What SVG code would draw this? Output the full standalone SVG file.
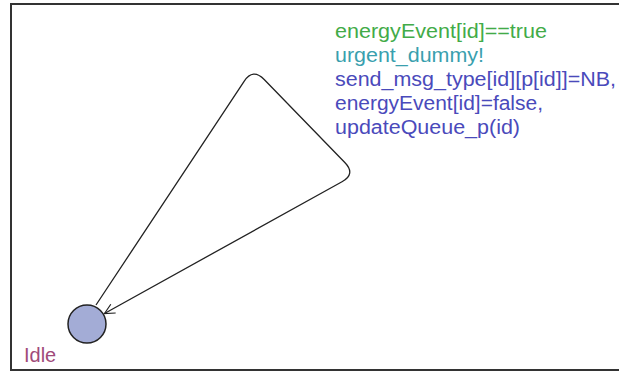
<svg xmlns="http://www.w3.org/2000/svg" width="619" height="372" viewBox="0 0 619 372">
  <defs>
    <marker id="arrow" viewBox="0 0 12 12" refX="11" refY="6" markerWidth="12" markerHeight="12" markerUnits="userSpaceOnUse" orient="auto">
      <polyline points="1,1 11,6 1,11" fill="none" stroke="#222" stroke-width="1.2"/>
    </marker>
  </defs>
  <style>
    .frame { fill: none; stroke: #333; stroke-width: 2; }
    .edge { fill: none; stroke: #222; stroke-width: 1.3; }
    .loc { fill: #a3acd6; stroke: #222; stroke-width: 1.5; }
    .lbl { font-family: "Liberation Sans", Arial, sans-serif; font-size: 20px; }
    .guard { fill: #42ab48; }
    .sync { fill: #3a9fae; }
    .assign { fill: #4a4abb; }
    .name { fill: #a04a7a; }
  </style>
  <rect width="619" height="372" fill="#fff"/>
  <!-- template frame (open on the right) -->
  <polyline class="frame" points="625,4 11,4 11,370 625,370"/>

  <g id="connectors">
    <path class="edge" marker-end="url(#arrow)"
          d="M96,305 L244.1,81.3 Q253,68 264.2,79.5 L344.8,162.5 Q356,174 342,181.7 L104.5,313.5"/>
    <g id="edge-labels">
      <text class="lbl guard" x="335" y="38" textLength="212" lengthAdjust="spacingAndGlyphs">energyEvent[id]==true</text>
      <text class="lbl sync" x="335" y="62" textLength="149" lengthAdjust="spacingAndGlyphs">urgent_dummy!</text>
      <text class="lbl assign" x="335" y="86" textLength="281" lengthAdjust="spacingAndGlyphs">send_msg_type[id][p[id]]=NB,</text>
      <text class="lbl assign" x="335" y="110" textLength="208" lengthAdjust="spacingAndGlyphs">energyEvent[id]=false,</text>
      <text class="lbl assign" x="335" y="134" textLength="185" lengthAdjust="spacingAndGlyphs">updateQueue_p(id)</text>
    </g>
  </g>

  <g id="Idle">
    <circle class="loc" cx="87" cy="324" r="19"/>
    <text class="lbl name" x="24" y="362">Idle</text>
  </g>
</svg>
